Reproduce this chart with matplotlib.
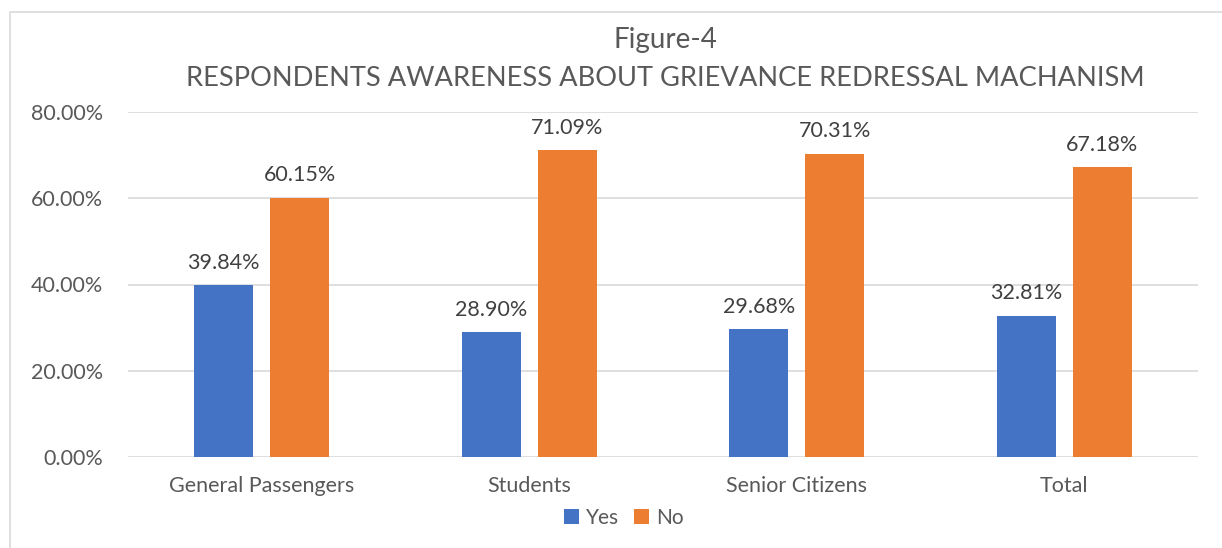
import matplotlib.pyplot as plt
import numpy as np
from matplotlib.patches import Rectangle

categories = ["General Passengers", "Students", "Senior Citizens", "Total"]
yes_vals = [39.84, 28.90, 29.68, 32.81]
no_vals = [60.15, 71.09, 70.31, 67.18]
yes_labels = ["39.84%", "28.90%", "29.68%", "32.81%"]
no_labels = ["60.15%", "71.09%", "70.31%", "67.18%"]
yticks = [0, 20, 40, 60, 80]

plt.rcParams['font.family'] = ['Lato', 'DejaVu Sans']
txt = "#595959"

fig = plt.figure(figsize=(12.22, 5.48), dpi=100)
W, H = 1222, 548
ax = fig.add_axes([128 / W, 1 - 457 / H, 1070 / W, 345 / H])

x = np.arange(len(categories))
bw = 0.22
b1 = ax.bar(x - 0.142, yes_vals, bw, color="#4472C4", label="Yes", zorder=3)
b2 = ax.bar(x + 0.142, no_vals, bw, color="#ED7D31", label="No", zorder=3)

for bars, labs in ((b1, yes_labels), (b2, no_labels)):
    for b, lab in zip(bars, labs):
        ax.annotate(lab, (b.get_x() + b.get_width() / 2, b.get_height()),
                    xytext=(0, 9), textcoords="offset points",
                    ha="center", va="bottom", fontsize=15.5, color="#404040")

ax.set_xlim(-0.5, 3.5)
ax.set_ylim(0, 80)
ax.set_yticks(yticks)
ax.set_yticklabels([f"{v:.2f}%" for v in yticks])
ax.set_xticks(x)
ax.set_xticklabels(categories)
ax.tick_params(length=0, labelsize=15.5, labelcolor=txt)
ax.tick_params(axis="x", pad=14)
ax.tick_params(axis="y", pad=18)
ax.grid(axis="y", color="#d9d9d9", linewidth=1.2, zorder=0)
for s in ax.spines.values():
    s.set_visible(False)

fig.text(665 / W, 1 - 40 / H, "Figure-4", ha="center", va="center",
         fontsize=20, color=txt)
fig.text(665 / W, 1 - 78 / H, "RESPONDENTS AWARENESS ABOUT GRIEVANCE REDRESSAL MACHANISM",
         ha="center", va="center", fontsize=19.6, color=txt)

fig.legend(loc="center", bbox_to_anchor=(624 / W, 1 - 518 / H), ncol=2, frameon=False,
           fontsize=15, labelcolor=txt, handlelength=0.7, handleheight=0.7,
           handletextpad=0.35, columnspacing=0.7)

fig.patches.append(Rectangle((10 / W, -0.05), 1.1, 1 - 12 / H + 0.05,
                             transform=fig.transFigure, fill=False,
                             edgecolor="#d9d9d9", linewidth=1.2))

fig.savefig("out.png", dpi=100)
